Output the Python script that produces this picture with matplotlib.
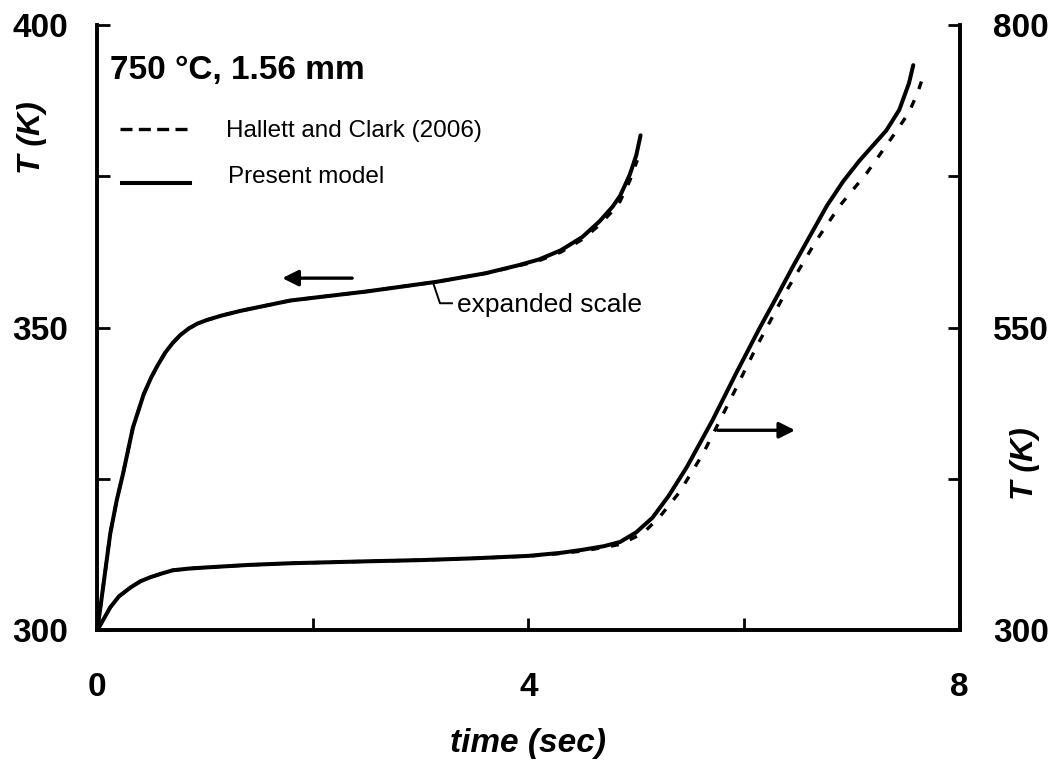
import numpy as np
import matplotlib.pyplot as plt

plt.rcParams['font.family'] = ['Liberation Sans', 'DejaVu Sans']

# expanded-scale curve (left axis, K)
t_up = [0, 0.06, 0.12, 0.18, 0.24, 0.33, 0.43, 0.5, 0.56, 0.63, 0.70, 0.77, 0.85, 0.93, 1.02,
        1.15, 1.33, 1.79, 2.5, 3.15, 3.6, 3.9, 4.1, 4.3, 4.5, 4.66, 4.78, 4.85, 4.94, 5.0, 5.04]
T_up_model = [300, 308, 316, 321.5, 326, 333.5, 339, 341.8, 343.8, 345.9, 347.5, 348.8, 349.9, 350.7, 351.3,
              352, 352.8, 354.5, 356, 357.6, 359, 360.3, 361.3, 362.8, 365, 367.6, 370, 371.8, 375.3, 378.5, 381.8]
t_up_hc = [0, 0.06, 0.12, 0.18, 0.24, 0.33, 0.43, 0.5, 0.56, 0.63, 0.70, 0.77, 0.85, 0.93, 1.02,
           1.15, 1.33, 1.79, 2.5, 3.15, 3.6, 3.9, 4.1, 4.3, 4.5, 4.66, 4.78, 4.85, 4.94, 5.01]
T_up_hc = [300, 308, 316, 321.5, 326, 333.5, 339, 341.8, 343.8, 345.9, 347.5, 348.8, 349.9, 350.7, 351.3,
           352, 352.8, 354.5, 356, 357.6, 359, 360.2, 361.1, 362.5, 364.6, 367, 369.3, 370.9, 374.3, 377.7]

# full-scale curve (right axis, K)
t_low = [0, 0.12, 0.2, 0.31, 0.4, 0.49, 0.6, 0.70, 0.85, 1.02, 1.4, 1.79, 2.5, 3.0, 3.5, 4.0,
         4.3, 4.5, 4.7, 4.85, 5.0, 5.15, 5.3, 5.47, 5.71, 5.93, 6.14, 6.3, 6.45, 6.6, 6.77,
         6.92, 7.07, 7.2, 7.32, 7.44, 7.53, 7.57]
T_low_model = [300, 319, 328, 335.5, 340.5, 343.8, 347, 349.6, 351, 352, 354, 355.4, 357, 358, 359.5, 361.5,
               364, 366.5, 369.5, 373, 381, 393, 411, 435, 474, 513, 549, 575, 600, 624, 651,
               671, 688, 701, 713, 730, 752, 767]
t_low_hc = [0, 0.12, 0.2, 0.31, 0.4, 0.49, 0.6, 0.70, 0.85, 1.02, 1.4, 1.79, 2.5, 3.0, 3.5, 4.0,
            4.3, 4.5, 4.7, 4.85, 5.06, 5.22, 5.4, 5.62, 5.87, 6.12, 6.39, 6.67, 6.89,
            7.14, 7.41, 7.53, 7.61, 7.67]
T_low_hc = [300, 319, 328, 335.5, 340.5, 343.8, 347, 349.6, 351, 352, 354, 355.4, 357, 358, 359.5, 361.3,
            363.5, 365.5, 368.5, 371, 380, 394, 414, 446, 490, 535, 580, 622, 651,
            678, 712, 728, 744, 760]

fig, ax = plt.subplots(figsize=(10.58, 7.64), dpi=100)
fig.subplots_adjust(left=0.092, right=0.907, top=0.967, bottom=0.175)
ax2 = ax.twinx()

dash = (0, (2.4, 3.6))
ax.plot(t_up_hc, T_up_hc, color='black', lw=2.4, ls=dash)
ax.plot(t_up, T_up_model, color='black', lw=2.9, solid_capstyle='round')
ax2.plot(t_low_hc, T_low_hc, color='black', lw=2.4, ls=dash)
ax2.plot(t_low, T_low_model, color='black', lw=2.9, solid_capstyle='round')

ax.set_xlim(0, 8)
ax.set_ylim(300, 400)
ax2.set_ylim(300, 800)

ax.set_xticks([0, 4, 8])
ax.set_xticks([2, 6], minor=True)
ax.set_yticks([300, 350, 400])
ax.set_yticks([325, 375], minor=True)
ax2.set_yticks([300, 550, 800])
ax2.set_yticks([425, 675], minor=True)

for a in (ax, ax2):
    a.spines['top'].set_visible(False)
    for s in ('left', 'right', 'bottom'):
        a.spines[s].set_linewidth(2.6)
    a.tick_params(which='both', direction='in', width=2, labelsize=24)
    a.tick_params(which='both', length=9)
    for lab in a.get_yticklabels() + a.get_xticklabels():
        lab.set_fontweight('bold')

ax.tick_params(axis='x', pad=30)
ax.tick_params(axis='y', pad=21)
ax2.tick_params(axis='y', pad=24)

ax.set_xlabel('time (sec)', fontsize=24, fontweight='bold', style='italic')
ax.xaxis.set_label_coords(0.5, -0.162)
ax.set_ylabel('T (K)', fontsize=23, fontweight='bold', style='italic')
ax.yaxis.set_label_coords(-0.058, 0.815)
ax2.set_ylabel('T (K)', fontsize=23, fontweight='bold', style='italic')
ax2.yaxis.set_label_coords(1.058, 0.276)

# legend-like text block
ax.text(0.015, 0.925, '750 °C, 1.56 mm', transform=ax.transAxes, fontsize=24,
        fontweight='bold', va='center')
ax.plot([0.213, 0.862], [382.8, 382.8], color='black', lw=2.4, ls=(0, (3.6, 1.9)))
ax.text(1.19, 381.5, 'Hallett and Clark (2006)', fontsize=17.5, va='baseline')
ax.plot([0.23, 0.862], [374.0, 374.0], color='black', lw=2.9)
ax.text(1.21, 373.9, 'Present model', fontsize=17.5, va='baseline')

# direction arrows
ax.annotate('', xy=(1.69, 358.2), xytext=(2.39, 358.2),
            arrowprops=dict(arrowstyle='-|>', color='black', lw=2.4, mutation_scale=24))
ax2.annotate('', xy=(6.5, 465.3), xytext=(5.73, 465.3),
             arrowprops=dict(arrowstyle='-|>', color='black', lw=2.4, mutation_scale=24))

# expanded scale leader
ax.plot([3.114, 3.179, 3.29], [357.5, 354.05, 354.05], color='black', lw=1.4)
ax.text(3.336, 353.8, 'expanded scale', fontsize=19, va='center')

fig.savefig('out.png', dpi=100)
